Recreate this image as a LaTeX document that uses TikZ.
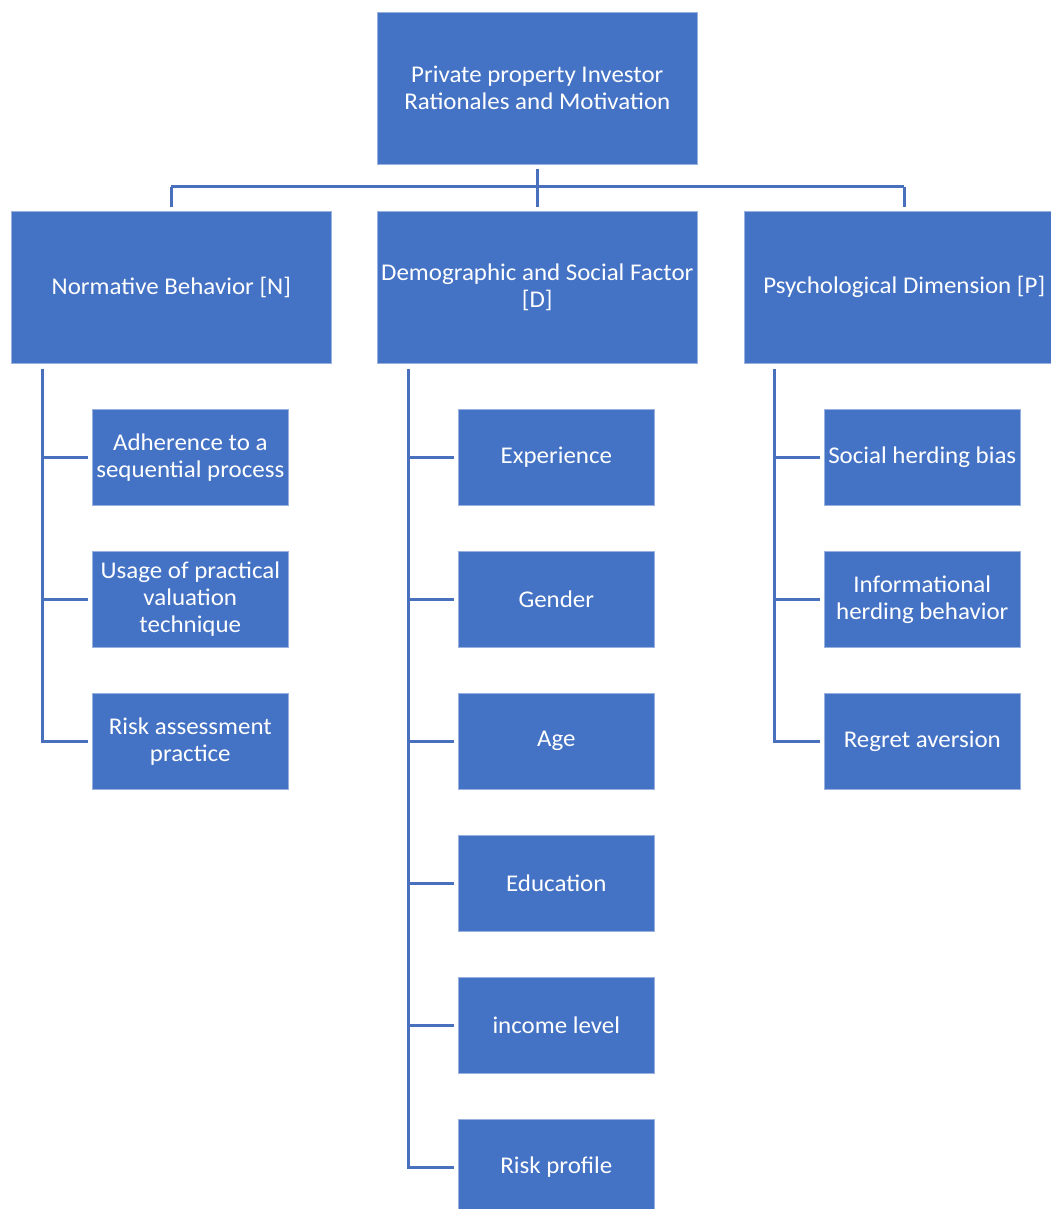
\documentclass[tikz,border=0pt]{standalone}
\usepackage{fontspec}
\setmainfont{Carlito}[FakeStretch=1.04]
\definecolor{boxblue}{HTML}{4472C4}
\definecolor{linkblue}{HTML}{4870BD}
\begin{document}
\begin{tikzpicture}[x=1pt,y=-1pt,
  box/.style={rectangle, fill=boxblue, draw=boxblue!55!white, line width=0.6pt,
    text=white, align=center, inner sep=0pt, font=\fontsize{24}{27}\selectfont},
  headbox/.style={box, minimum width=320pt, minimum height=152pt, anchor=north west},
  leafbox/.style={box, minimum width=196pt, minimum height=96pt, anchor=north west},
  link/.style={draw=linkblue, line width=3pt}]
\useasboundingbox (0,0) rectangle (1051,1209);

% root and the three dimensions
\node[headbox] (root) at (377,12) {Private property Investor\\Rationales and Motivation};
\node[headbox] (N) at (11,211) {Normative Behavior [N]};
\node[headbox] (D) at (377,211) {Demographic and Social Factor\\{}[D]};
\node[headbox] (P) at (744,211) {Psychological Dimension [P]};

% normative behaviour items
\node[leafbox] (n1) at (92,409) {Adherence to a\\sequential process};
\node[leafbox] (n2) at (92,551) {Usage of practical\\valuation\\technique};
\node[leafbox] (n3) at (92,693) {Risk assessment\\practice};

% demographic and social items
\node[leafbox] (d1) at (458,409) {Experience};
\node[leafbox] (d2) at (458,551) {Gender};
\node[leafbox] (d3) at (458,693) {Age};
\node[leafbox] (d4) at (458,835) {Education};
\node[leafbox] (d5) at (458,977) {income level};
\node[leafbox] (d6) at (458,1119) {Risk profile};

% psychological items
\node[leafbox] (p1) at (824,409) {Social herding bias};
\node[leafbox] (p2) at (824,551) {Informational\\herding behavior};
\node[leafbox] (p3) at (824,693) {Regret aversion};

% bus from the root to the three dimensions
\coordinate (bus) at (537,187);
\draw[link] ([yshift=-4pt]root.south) -- ([yshift=4pt]D.north);
\draw[link] (N.north |- bus) -- (P.north |- bus);
\draw[link] (N.north |- bus) -- ([yshift=4pt]N.north);
\draw[link] (P.north |- bus) -- ([yshift=4pt]P.north);

% spines with branches to the items
\coordinate (nsp) at ([xshift=31pt,yshift=-5pt]N.south west);
\coordinate (dsp) at ([xshift=31pt,yshift=-5pt]D.south west);
\coordinate (psp) at ([xshift=30pt,yshift=-5pt]P.south west);

\draw[link] (nsp) |- ([xshift=-4pt]n3.west);
\foreach \c in {n1,n2}
  \draw[link] (nsp |- \c.west) -- ([xshift=-4pt]\c.west);

\draw[link] (dsp) |- ([xshift=-4pt]d6.west);
\foreach \c in {d1,d2,d3,d4,d5}
  \draw[link] (dsp |- \c.west) -- ([xshift=-4pt]\c.west);

\draw[link] (psp) |- ([xshift=-4pt]p3.west);
\foreach \c in {p1,p2}
  \draw[link] (psp |- \c.west) -- ([xshift=-4pt]\c.west);
\end{tikzpicture}
\end{document}
